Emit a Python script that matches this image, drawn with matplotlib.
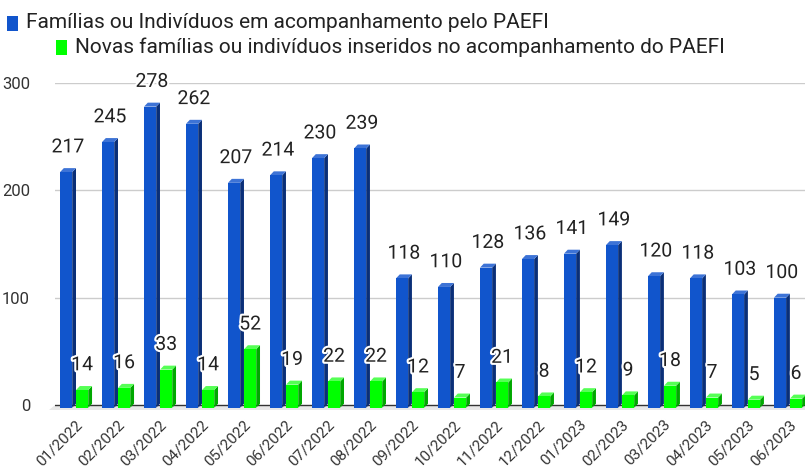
import matplotlib.pyplot as plt
import matplotlib.patheffects as pe
from matplotlib.patches import Polygon, Rectangle

plt.rcParams['font.family'] = ['Roboto', 'DejaVu Sans']

months = ['01/2022', '02/2022', '03/2022', '04/2022', '05/2022', '06/2022',
          '07/2022', '08/2022', '09/2022', '10/2022', '11/2022', '12/2022',
          '01/2023', '02/2023', '03/2023', '04/2023', '05/2023', '06/2023']
acompanhamento = [217, 245, 278, 262, 207, 214, 230, 239, 118, 110, 128, 136,
                  141, 149, 120, 118, 103, 100]
novas = [14, 16, 33, 14, 52, 19, 22, 22, 12, 7, 21, 8, 12, 9, 18, 7, 5, 6]

label_blue = 'Famílias ou Indivíduos em acompanhamento pelo PAEFI'
label_green = 'Novas famílias ou indivíduos inseridos no acompanhamento do PAEFI'

BLUE = ('#1155cc', '#0a2f78', '#3d73d6')   # front, side, top
GREEN = ('#00ff00', '#00a800', '#55ff55')

fig = plt.figure(figsize=(8.11, 4.69), dpi=100)
ax = fig.add_axes([55 / 811, 1 - 410.4 / 469, 750 / 811, 327.4 / 469])
ax.set_xlim(-0.49, 17.37)
ax.set_ylim(-5, 300)

dx, dy = 0.09, 3.7   # 3d depth
w = 0.29
base = -2.5


def bar3d(x0, h, colors):
    front, side, top = colors
    x1 = x0 + w
    ax.add_patch(Polygon([(x1, base), (x1 + dx, base + dy), (x1 + dx, h + dy), (x1, h)],
                         closed=True, facecolor=side, edgecolor='none', zorder=3))
    ax.add_patch(Polygon([(x0, h), (x1, h), (x1 + dx, h + dy), (x0 + dx, h + dy)],
                         closed=True, facecolor=top, edgecolor='none', zorder=3))
    ax.bar(x0, h - base, bottom=base, width=w, align='edge', color=front, zorder=3)


# floor
xl, xr = ax.get_xlim()
ax.add_patch(Polygon([(xl - 0.15, -4.5), (xr, -4.5), (xr, 0), (xl, 0)], closed=True,
                     facecolor='#e8e8e8', edgecolor='none', zorder=1, clip_on=False))
ax.axhline(0, color='#333333', lw=1, zorder=2)
for g in [100, 200, 300]:
    ax.axhline(g, color='#cccccc', lw=1, zorder=0)

halo = [pe.withStroke(linewidth=3, foreground='white')]
for i, (a, n) in enumerate(zip(acompanhamento, novas)):
    xb = i - 0.37
    xg = i + 0.012
    bar3d(xb, a, BLUE)
    bar3d(xg, n, GREEN)
    ax.text(xb + w / 2 + dx / 2, a + 23, str(a), ha='center', va='center',
            fontsize=14, color='#222222', path_effects=halo, zorder=5)
    ax.text(xg + w / 2, n + 23, str(n), ha='center', va='center',
            fontsize=14, color='#222222', path_effects=halo, zorder=5)

ax.set_yticks([0, 100, 200, 300])
ax.set_yticklabels(['0', '100', '200', '300'], fontsize=12, color='#333333')
ax.set_xticks(range(len(months)))
ax.set_xticklabels(months, rotation=45, ha='right', rotation_mode='anchor',
                   fontsize=11, color='#333333')
ax.tick_params(length=0)
ax.tick_params(axis='y', pad=18)
ax.tick_params(axis='x', pad=5)
for s in ax.spines.values():
    s.set_visible(False)

# legend
fig.patches.append(Rectangle((7 / 811, 1 - 31 / 469), 11 / 811, 15 / 469,
                             transform=fig.transFigure, facecolor=BLUE[0], figure=fig))
fig.text(26 / 811, 1 - 23 / 469, label_blue, fontsize=15, va='center', color='#222222')
fig.patches.append(Rectangle((56 / 811, 1 - 55 / 469), 11 / 811, 15 / 469,
                             transform=fig.transFigure, facecolor=GREEN[0], figure=fig))
fig.text(75 / 811, 1 - 47 / 469, label_green, fontsize=15, va='center', color='#222222')

fig.savefig('out.png', dpi=100)
